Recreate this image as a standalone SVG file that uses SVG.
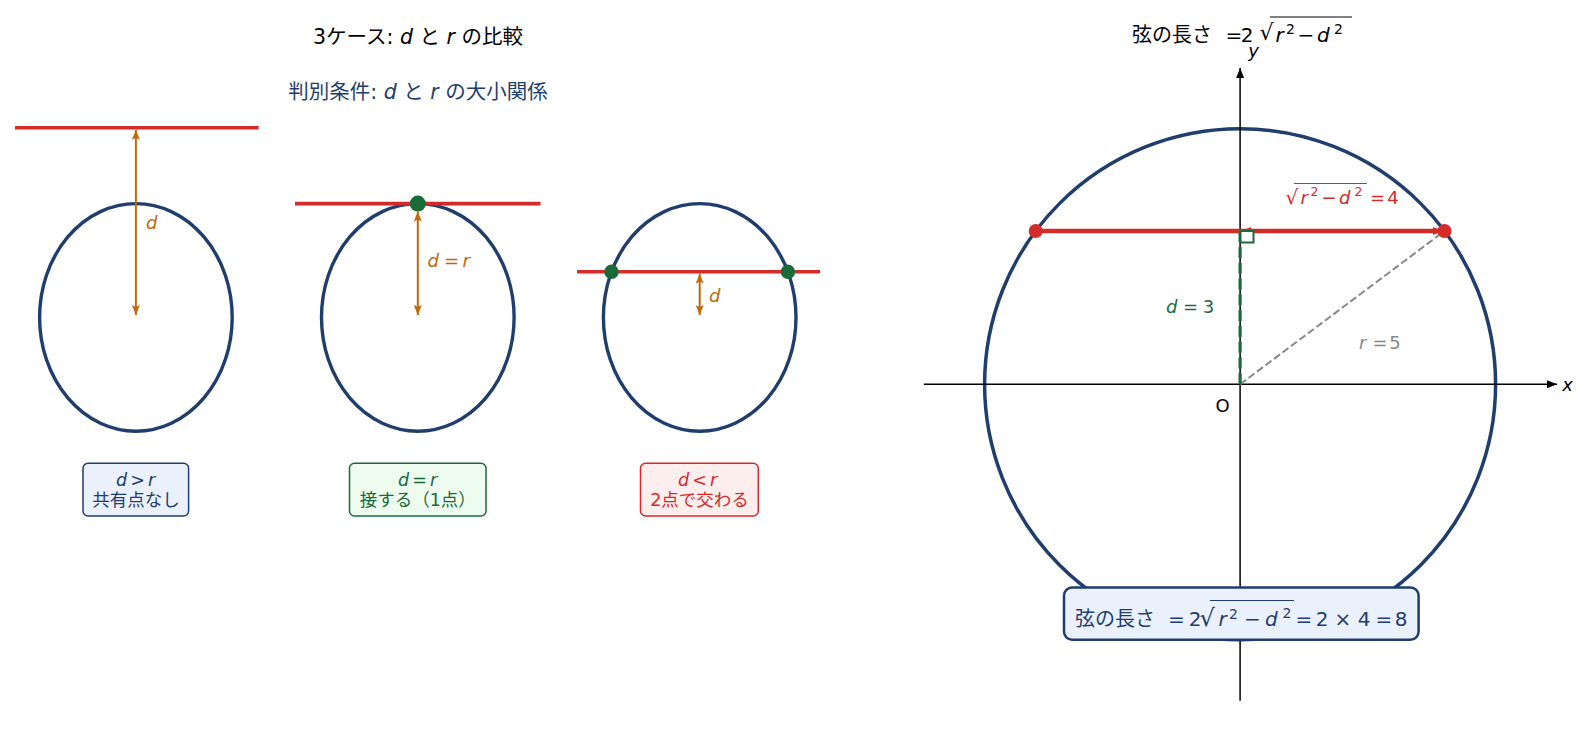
<svg xmlns="http://www.w3.org/2000/svg" width="1590" height="731" viewBox="0 0 1590 731">
<style>
text{font-family:"DejaVu Sans","Noto Sans CJK JP",sans-serif;}
.i{font-style:italic;}
.ell{fill:none;stroke:#1f3d6d;stroke-width:3.4;}
.rline{stroke:#d32a2a;stroke-width:3.6;}
.oarr{stroke:#c0680a;stroke-width:2;fill:none;marker-start:url(#oh);marker-end:url(#oh);}
.gdot{fill:#1b6b3a;}
.rdot{fill:#d32a2a;}
.olab{fill:#c0680a;font-size:18px;}
.box{stroke-width:1.5;}
.bt{font-size:17.5px;}
.m{text-anchor:middle;}
.ax{stroke:#000;stroke-width:1.5;fill:none;}
.m20{font-size:20px;}
</style>
<defs>
<marker id="oh" viewBox="0 0 10 8" refX="10" refY="4" markerWidth="10" markerHeight="8" markerUnits="userSpaceOnUse" orient="auto-start-reverse"><path d="M0,0 L10,4 L0,8 L2,4 z" fill="#c0680a"/></marker>
<marker id="ah" viewBox="0 0 10 8" refX="10" refY="4" markerWidth="10" markerHeight="8" markerUnits="userSpaceOnUse" orient="auto-start-reverse"><path d="M0,0 L10,4 L0,8 z" fill="#000"/></marker>
<marker id="rh" viewBox="0 0 10 8" refX="10" refY="4" markerWidth="10" markerHeight="8" markerUnits="userSpaceOnUse" orient="auto-start-reverse"><path d="M0,0 L10,4 L0,8 z" fill="#d32a2a"/></marker>
</defs>
<rect width="1590" height="731" fill="#fff"/>

<g id="titles">
<text x="418" y="44" font-size="20.5" text-anchor="middle" fill="#000">3ケース: <tspan class="i">d</tspan> と <tspan class="i">r</tspan> の比較</text>
<text x="418" y="99" font-size="20.5" text-anchor="middle" fill="#1f3d6d">判別条件: <tspan class="i">d</tspan> と <tspan class="i">r</tspan> の大小関係</text>
</g>

<g id="case1">
<ellipse class="ell" cx="135.9" cy="317.4" rx="96.3" ry="113.8"/>
<line class="rline" x1="15" y1="127.8" x2="258.6" y2="127.8"/>
<line class="oarr" x1="135.9" y1="129.8" x2="135.9" y2="315"/>
<text class="olab i" x="146" y="229">d</text>
</g>

<g id="case2">
<ellipse class="ell" cx="417.8" cy="317.4" rx="96.3" ry="113.8"/>
<line class="rline" x1="295" y1="203.6" x2="540.5" y2="203.6"/>
<line class="oarr" x1="417.8" y1="211.5" x2="417.8" y2="315"/>
<circle class="gdot" cx="417.8" cy="203.6" r="8"/>
<text class="olab i" x="427.5" y="267">d</text>
<text class="olab m" x="451.5" y="267">=</text>
<text class="olab i" x="462.5" y="267">r</text>
</g>

<g id="case3">
<ellipse class="ell" cx="699.7" cy="317.4" rx="96.3" ry="113.8"/>
<line class="rline" x1="577" y1="271.8" x2="820" y2="271.8"/>
<line class="oarr" x1="699.7" y1="273.6" x2="699.7" y2="315"/>
<circle class="gdot" cx="611.5" cy="271.8" r="7.2"/>
<circle class="gdot" cx="787.9" cy="271.8" r="7.2"/>
<text class="olab i" x="709" y="301.5">d</text>
</g>

<g id="box1" fill="#1f3d6d">
<rect class="box" x="83" y="463.3" width="105.6" height="52.7" rx="5" fill="#eaf1fd" stroke="#1f3d6d"/>
<text class="bt i" x="116" y="485.5">d</text>
<text class="bt m" x="137.5" y="485.5">&gt;</text>
<text class="bt i" x="148" y="485.5">r</text>
<text class="bt m" x="135.9" y="506">共有点なし</text>
</g>
<g id="box2" fill="#1b6b3a">
<rect class="box" x="349.5" y="463.3" width="136.5" height="52.7" rx="5" fill="#edfcef" stroke="#1b6b3a"/>
<text class="bt i" x="398" y="485.5">d</text>
<text class="bt m" x="419.5" y="485.5">=</text>
<text class="bt i" x="430" y="485.5">r</text>
<text class="bt m" x="417.8" y="506">接する（1点）</text>
</g>
<g id="box3" fill="#d32a2a">
<rect class="box" x="640.5" y="463.3" width="117.8" height="52.7" rx="5" fill="#fdeeee" stroke="#d32a2a"/>
<text class="bt i" x="678" y="485.5">d</text>
<text class="bt m" x="699.5" y="485.5">&lt;</text>
<text class="bt i" x="710" y="485.5">r</text>
<text class="bt m" x="699.5" y="506">2点で交わる</text>
</g>

<g id="right-title" fill="#000">
<text class="m20" x="1132" y="41.5">弦の長さ</text>
<text class="m20 m" x="1234" y="41.5">=</text>
<text class="m20 m" x="1247" y="41.5">2</text>
<text x="1259.5" y="40" font-size="22">√</text>
<line x1="1270" y1="17" x2="1352" y2="17" stroke="#000" stroke-width="1"/>
<text class="m20 i" x="1275.5" y="41.5">r</text>
<text x="1286" y="34" font-size="14">2</text>
<text class="m20 m" x="1306" y="41.5">−</text>
<text class="m20 i" x="1317" y="41.5">d</text>
<text x="1334" y="34" font-size="14">2</text>
</g>

<g id="circle-plot">
<circle cx="1240.1" cy="384.3" r="255.5" fill="none" stroke="#1f3d6d" stroke-width="3.5"/>
</g>

<g id="axes">
<line class="ax" x1="923.8" y1="384.3" x2="1557" y2="384.3" marker-end="url(#ah)"/>
<line class="ax" x1="1240.1" y1="700.7" x2="1240.1" y2="68" marker-end="url(#ah)"/>
<text class="i" x="1567.5" y="390.5" font-size="18" text-anchor="middle">x</text>
<text class="i" x="1253.5" y="56.5" font-size="18" text-anchor="middle">y</text>
<text x="1222.5" y="411.7" font-size="18" text-anchor="middle">O</text>
</g>

<g id="connectors">
<line x1="1240.1" y1="384.3" x2="1444.5" y2="231" stroke="#888" stroke-width="2" stroke-dasharray="7.4,3.2"/>
<line x1="1240.1" y1="384.3" x2="1240.1" y2="231" stroke="#1b6b3a" stroke-width="3.2" stroke-dasharray="11,4.8"/>
<line x1="1035.7" y1="231" x2="1444.5" y2="231" stroke="#d32a2a" stroke-width="4.5"/>
<line x1="1241" y1="231" x2="1443" y2="231" stroke="#d32a2a" stroke-width="1.5" marker-start="url(#rh)" marker-end="url(#rh)"/>
<rect x="1240.5" y="231" width="13" height="11.5" fill="#fff" stroke="#1b6b3a" stroke-width="2"/>
</g>

<g id="chord-points">
<circle class="rdot" cx="1035.7" cy="231" r="7"/>
<circle class="rdot" cx="1444.5" cy="231" r="7"/>
</g>

<g id="labels">
<g fill="#d32a2a">
<text x="1285.5" y="204" font-size="20">√</text>
<line x1="1294" y1="183.5" x2="1367" y2="183.5" stroke="#d32a2a" stroke-width="1"/>
<text class="i" x="1300.5" y="204.3" font-size="18">r</text>
<text x="1310.5" y="196" font-size="12.5">2</text>
<text x="1329" y="204.3" font-size="18" text-anchor="middle">−</text>
<text class="i" x="1339" y="204.3" font-size="18">d</text>
<text x="1354.5" y="196" font-size="12.5">2</text>
<text x="1377.5" y="204.3" font-size="18" text-anchor="middle">=</text>
<text x="1393" y="204.3" font-size="18" text-anchor="middle">4</text>
</g>
<g fill="#1b6b3a" font-size="18">
<text class="i" x="1166" y="313.3">d</text>
<text x="1190.5" y="313.3" text-anchor="middle">=</text>
<text x="1208.5" y="313.3" text-anchor="middle">3</text>
</g>
<g fill="#888" font-size="18">
<text class="i" x="1359" y="349">r</text>
<text x="1380" y="349" text-anchor="middle">=</text>
<text x="1395" y="349" text-anchor="middle">5</text>
</g>
</g>

<g id="result-box">
<rect x="1064" y="587.5" width="354.6" height="52.3" rx="8" fill="#eaf1fd" stroke="#1f3d6d" stroke-width="2.5"/>
<g fill="#1f3d6d">
<text class="m20" x="1075" y="626">弦の長さ</text>
<text class="m20 m" x="1176.5" y="626">=</text>
<text class="m20 m" x="1195" y="626">2</text>
<text x="1199.5" y="625.5" font-size="24">√</text>
<line x1="1210" y1="600.5" x2="1294" y2="600.5" stroke="#1f3d6d" stroke-width="1"/>
<text class="m20 i" x="1218.5" y="626">r</text>
<text x="1229" y="619" font-size="14">2</text>
<text class="m20 m" x="1252.5" y="626">−</text>
<text class="m20 i" x="1265" y="626">d</text>
<text x="1282.5" y="618" font-size="14">2</text>
<text class="m20 m" x="1304" y="626">=</text>
<text class="m20 m" x="1322" y="626">2</text>
<text class="m20 m" x="1343" y="626">×</text>
<text class="m20 m" x="1364" y="626">4</text>
<text class="m20 m" x="1384" y="626">=</text>
<text class="m20 m" x="1401" y="626">8</text>
</g>
</g>
</svg>
